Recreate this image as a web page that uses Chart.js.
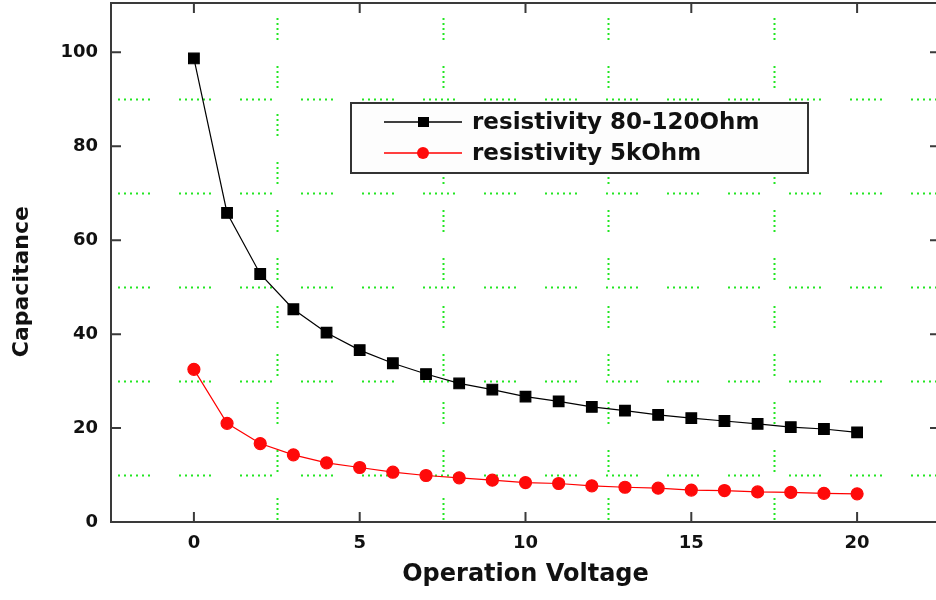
<!DOCTYPE html>
<html>
<head>
<meta charset="utf-8">
<script src="https://cdn.jsdelivr.net/npm/chart.js@4"></script>
<style>
  html, body { margin: 0; padding: 0; background: #fff; overflow: hidden; }
  #myChart { display: block; }
</style>
</head>
<body>
<canvas id="myChart" width="944" height="600" style="width:944px;height:600px"></canvas>
<script>
// Capacitance vs operation voltage, two resistivity samples

const voltage = [0, 1, 2, 3, 4, 5, 6, 7, 8, 9, 10, 11, 12, 13, 14, 15, 16, 17, 18, 19, 20];
const capLowRes = [98.7, 65.8, 52.8, 45.3, 40.3, 36.6, 33.8, 31.5, 29.5, 28.2, 26.7,
                   25.7, 24.5, 23.7, 22.8, 22.1, 21.5, 20.9, 20.2, 19.8, 19.1];   // 80-120 Ohm
const capHighRes = [32.5, 21.0, 16.7, 14.3, 12.6, 11.6, 10.6, 9.9, 9.4, 8.9, 8.4,
                    8.2, 7.7, 7.4, 7.2, 6.8, 6.7, 6.4, 6.3, 6.1, 6.0];           // 5 kOhm
const seriesNames = ['resistivity 80-120Ohm', 'resistivity 5kOhm'];

const xTicks = [0, 5, 10, 15, 20];
const yTicks = [0, 20, 40, 60, 80, 100];
const xGrid = [2.5, 7.5, 12.5, 17.5, 22.5];   // dotted lines sit between the ticks
const yGrid = [10, 30, 50, 70, 90];

const FONT = "'DejaVu Sans', sans-serif";

// grid, frame with inward ticks, and the boxed legend
const decorations = {
    id: 'decorations',
    beforeDatasetsDraw(chart) {
        const {ctx, chartArea: a, scales: {x, y}} = chart;
        ctx.save();
        ctx.strokeStyle = '#22e622';
        ctx.lineWidth = 2;
        ctx.lineCap = 'butt';
        // horizontal dotted pieces
        ctx.setLineDash([2, 4, 2, 4, 2, 4, 2, 4, 2, 4, 2, 29]);
        ctx.lineDashOffset = -7;
        yGrid.forEach(v => {
            const py = Math.round(y.getPixelForValue(v)) + 0.5;
            ctx.beginPath();
            ctx.moveTo(a.left, py);
            ctx.lineTo(a.right, py);
            ctx.stroke();
        });
        // vertical dotted pieces
        ctx.setLineDash([2, 3, 2, 3, 2, 3, 2, 3, 2, 26]);
        ctx.lineDashOffset = -15;
        xGrid.forEach(v => {
            const px = Math.round(x.getPixelForValue(v)) + 0.5;
            ctx.beginPath();
            ctx.moveTo(px, a.top);
            ctx.lineTo(px, a.bottom);
            ctx.stroke();
        });
        ctx.restore();
    },
    afterDatasetsDraw(chart) {
        const {ctx, chartArea: a, scales: {x, y}} = chart;
        ctx.save();
        // frame
        ctx.strokeStyle = '#3a3a3a';
        ctx.lineWidth = 2;
        ctx.strokeRect(a.left, a.top, a.right - a.left, a.bottom - a.top);
        // ticks pointing inward
        const tl = 10;
        ctx.beginPath();
        xTicks.forEach(v => {
            const px = x.getPixelForValue(v);
            ctx.moveTo(px, a.bottom); ctx.lineTo(px, a.bottom - tl);
            ctx.moveTo(px, a.top); ctx.lineTo(px, a.top + tl);
        });
        yTicks.forEach(v => {
            const py = y.getPixelForValue(v);
            ctx.moveTo(a.left, py); ctx.lineTo(a.left + tl, py);
            ctx.moveTo(a.right, py); ctx.lineTo(a.right - tl, py);
        });
        ctx.stroke();

        // legend box
        const bx = 351, by = 103, bw = 457, bh = 70;
        ctx.fillStyle = '#fdfdfd';
        ctx.fillRect(bx, by, bw, bh);
        ctx.strokeStyle = '#333';
        ctx.lineWidth = 2;
        ctx.strokeRect(bx, by, bw, bh);
        chart.data.datasets.forEach((ds, i) => {
            const cy = 122 + i * 31;
            ctx.strokeStyle = ds.borderColor;
            ctx.lineWidth = 1.5;
            ctx.beginPath();
            ctx.moveTo(384, cy); ctx.lineTo(462, cy);
            ctx.stroke();
            ctx.fillStyle = ds.pointBackgroundColor;
            if (ds.pointStyle === 'rect') {
                ctx.fillRect(418, cy - 5, 11, 10);
            } else {
                ctx.beginPath();
                ctx.arc(423, cy, 6, 0, Math.PI * 2);
                ctx.fill();
            }
            ctx.fillStyle = '#111';
            ctx.font = 'bold 23px ' + FONT;
            ctx.textBaseline = 'middle';
            ctx.textAlign = 'left';
            ctx.fillText(ds.label, 472, cy + 1);
        });
        ctx.restore();
    }
};

function createChart() {
    const ctx = document.getElementById('myChart');
    new Chart(ctx, {
        type: 'line',
        data: {
            datasets: [
                {
                    label: seriesNames[0],
                    data: voltage.map((v, i) => ({x: v, y: capLowRes[i]})),
                    borderColor: '#000000',
                    backgroundColor: '#000000',
                    pointBackgroundColor: '#000000',
                    pointBorderColor: '#000000',
                    pointStyle: 'rect',
                    pointRadius: 7.5,
                    borderWidth: 1.2,
                    tension: 0
                },
                {
                    label: seriesNames[1],
                    data: voltage.map((v, i) => ({x: v, y: capHighRes[i]})),
                    borderColor: '#ff0000',
                    backgroundColor: '#ff0000',
                    pointBackgroundColor: '#ff0a0a',
                    pointBorderColor: '#ff0a0a',
                    pointStyle: 'circle',
                    pointRadius: 6,
                    borderWidth: 1.2,
                    tension: 0
                }
            ]
        },
        options: {
            responsive: false,
            animation: false,
            devicePixelRatio: 1,
            layout: { autoPadding: false, padding: { top: 3, right: 4, left: 0, bottom: 0 } },
            plugins: {
                legend: { display: false },
                tooltip: { enabled: false }
            },
            scales: {
                x: {
                    type: 'linear',
                    min: -2.5,
                    max: 22.5,
                    afterBuildTicks: s => { s.ticks = xTicks.map(v => ({value: v})); },
                    afterFit: s => { s.height = 78; s.paddingLeft = 0; s.paddingRight = 0; },
                    grid: { display: false, drawTicks: false },
                    border: { display: false },
                    ticks: {
                        padding: 11,
                        color: '#111',
                        font: { family: FONT, size: 18, weight: 'bold' }
                    },
                    title: {
                        display: true,
                        text: 'Operation Voltage',
                        color: '#111',
                        font: { family: FONT, size: 24, weight: 'bold' },
                        padding: { top: 0, bottom: 11 }
                    }
                },
                y: {
                    type: 'linear',
                    min: 0,
                    max: 110.5,
                    afterBuildTicks: s => { s.ticks = yTicks.map(v => ({value: v})); },
                    afterFit: s => { s.width = 111; s.paddingTop = 0; s.paddingBottom = 0; },
                    grid: { display: false, drawTicks: false },
                    border: { display: false },
                    ticks: {
                        padding: 13,
                        color: '#111',
                        font: { family: FONT, size: 18, weight: 'bold' }
                    },
                    title: {
                        display: true,
                        text: 'Capacitance     ',   // trailing spaces push the title down a bit, as in the original
                        color: '#111',
                        font: { family: FONT, size: 22, weight: 'bold' },
                        padding: { top: 9, bottom: 0 }
                    }
                }
            }
        },
        plugins: [decorations]
    });
}

createChart();
</script>
</body>
</html>
